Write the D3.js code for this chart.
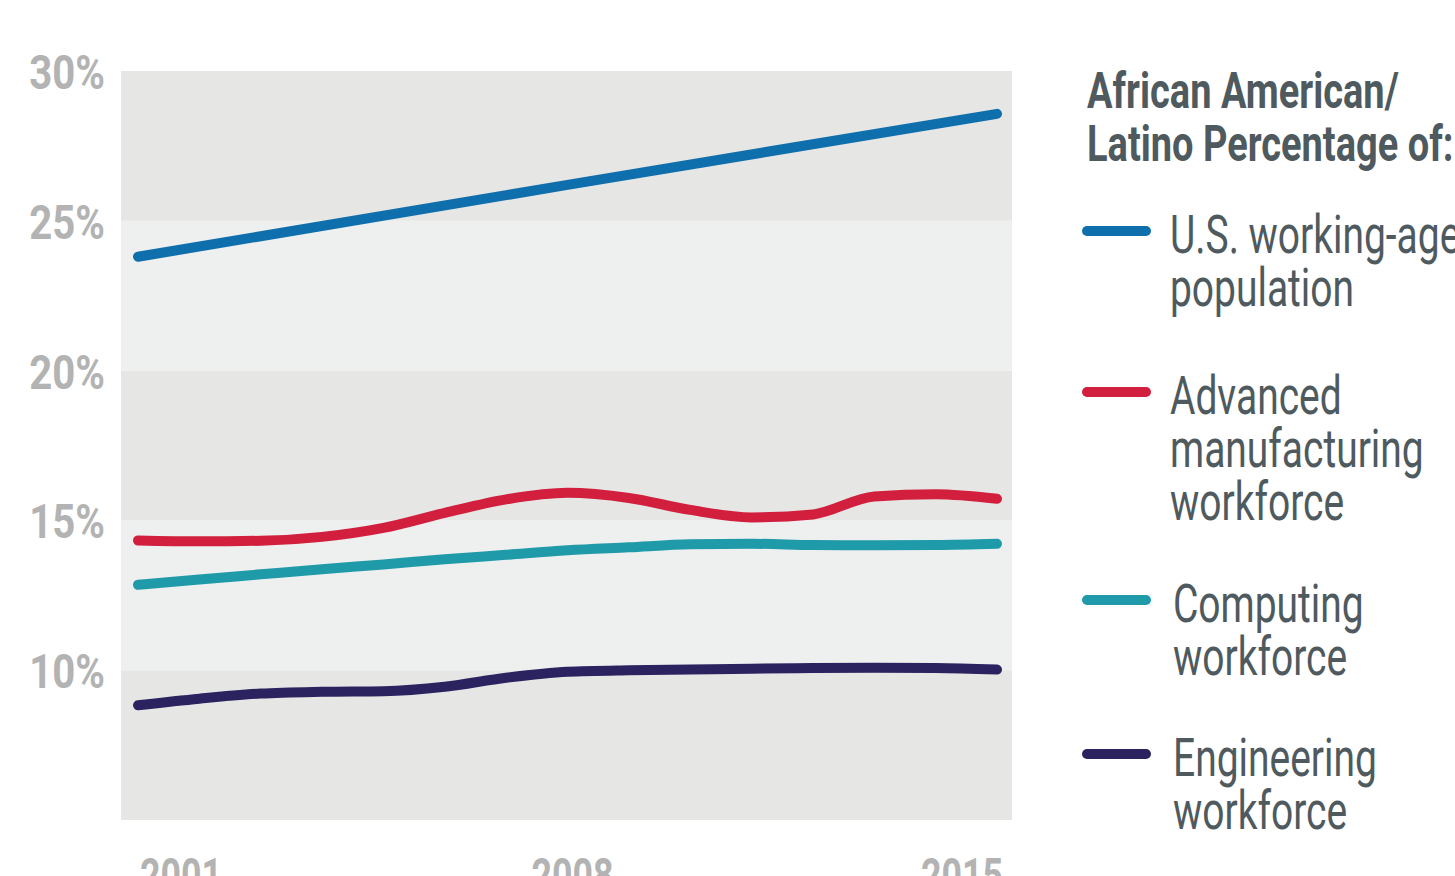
<!DOCTYPE html>
<html>
<head>
<meta charset="utf-8">
<script src="https://cdn.jsdelivr.net/npm/d3@7"></script>
<style>
	body { margin: 0; background: #fff; }
	svg { display: block; }
	text { font-family: Roboto, "Noto Sans", sans-serif; }
</style>
</head>
<body>
<div id="chart-area"></div>
<script>
const svgWidth = 1455,
	svgHeight = 876;

// data (percent)
const years = [2001, 2002, 2003, 2004, 2005, 2006, 2007, 2008, 2009, 2010, 2011, 2012, 2013, 2014, 2015];
const workingAge = [23.8, null, null, null, null, null, null, 26.2, null, null, null, null, null, null, 28.57];
const manufacturing = [14.33, 14.3, 14.32, 14.45, 14.75, 15.25, 15.7, 15.92, 15.75, 15.35, 15.1, 15.2, 15.8, 15.87, 15.72];
const computing = [12.85, 13.03, 13.2, 13.37, 13.53, 13.7, 13.85, 14.0, 14.1, 14.2, 14.22, 14.18, 14.17, 14.18, 14.22];
const engineering = [8.83, 9.05, 9.22, 9.28, 9.3, 9.45, 9.75, 9.95, 10.0, 10.02, 10.05, 10.07, 10.08, 10.07, 10.02];
const yTicks = [30, 25, 20, 15, 10];
const xTicks = [2001, 2008, 2015];
const seriesNames = [["U.S. working-age", "population"], ["Advanced", "manufacturing", "workforce"], ["Computing", "workforce"], ["Engineering", "workforce"]];
const seriesColors = ["#0f6fad", "#d11f3d", "#1f9aa8", "#2a2360"];
const legendTitle = ["African American/", "Latino Percentage of:"];

const series = [workingAge, manufacturing, computing, engineering];

const svg = d3.select("#chart-area")
	.append("svg")
	.attr("width", svgWidth)
	.attr("height", svgHeight);

const plot = {left: 121, right: 1012, top: 71, bottom: 820};

const x = d3.scaleLinear().domain([2001, 2015]).range([138, 997]);
const y = d3.scaleLinear().domain([5, 30]).range([plot.bottom, plot.top]);

// condensed look: squeeze text horizontally around its anchor
function squeeze(sel, px, py, sx) {
	return sel.attr("x", 0).attr("y", 0)
		.attr("transform", (d, i) => `translate(${px(d, i)}, ${py(d, i)}) scale(${sx}, 1)`);
}

// alternating bands
const bands = d3.range(5, 30, 5);
svg.selectAll("rect.band")
	.data(bands)
	.enter().append("rect")
	.attr("class", "band")
	.attr("x", plot.left)
	.attr("width", plot.right - plot.left)
	.attr("y", d => y(d + 5))
	.attr("height", d => y(d) - y(d + 5))
	.attr("fill", d => (d / 5) % 2 === 1 ? "#e6e6e5" : "#eeefef");

// y labels
squeeze(svg.selectAll("text.ytick")
	.data(yTicks)
	.enter().append("text")
	.attr("class", "ytick")
	.attr("text-anchor", "end")
	.attr("font-size", "49px")
	.attr("font-weight", "bold")
	.attr("fill", "#b3b3b3")
	.text(d => d + "%"), () => 105, d => y(d) + 18, 0.82);

// x labels (partly cut off at the bottom)
squeeze(svg.selectAll("text.xtick")
	.data(xTicks)
	.enter().append("text")
	.attr("class", "xtick")
	.attr("text-anchor", (d, i) => i === 0 ? "start" : (i === xTicks.length - 1 ? "end" : "middle"))
	.attr("font-size", "49px")
	.attr("font-weight", "bold")
	.attr("fill", "#b3b3b3")
	.text(d => d), (d, i) => i === 0 ? x(d) + 2 : (i === xTicks.length - 1 ? x(d) + 6 : x(d) + 5), () => 892, 0.73);

const line = d3.line()
	.x(d => x(d.year))
	.y(d => y(d.value))
	.curve(d3.curveMonotoneX);

series.forEach((values, i) => {
	const pts = years.map((yr, j) => ({year: yr, value: values[j]})).filter(d => d.value != null);
	svg.append("path")
		.attr("d", line(pts))
		.attr("fill", "none")
		.attr("stroke", seriesColors[i])
		.attr("stroke-width", 10)
		.attr("stroke-linecap", "round")
		.attr("stroke-linejoin", "round");
});

// legend
const legend = svg.append("g");
squeeze(legend.selectAll("text.ltitle")
	.data(legendTitle)
	.enter().append("text")
	.attr("class", "ltitle")
	.attr("font-size", "50px")
	.attr("font-weight", "bold")
	.attr("fill", "#4f5a5f")
	.text(d => d), () => 1087, (d, i) => 108 + i * 53, 0.76);

const legendY = [231, 392, 600, 754];
const legendTextX = [1170, 1170, 1173, 1173];
seriesNames.forEach((lines, i) => {
	legend.append("line")
		.attr("x1", 1087).attr("x2", 1146)
		.attr("y1", legendY[i]).attr("y2", legendY[i])
		.attr("stroke", seriesColors[i])
		.attr("stroke-width", 10)
		.attr("stroke-linecap", "round");
	squeeze(legend.selectAll(null)
		.data(lines)
		.enter().append("text")
		.attr("font-size", "53px")
		.attr("fill", "#4f5a5f")
		.text(d => d), () => legendTextX[i], (d, j) => legendY[i] + 22 + j * 53, 0.735);
});
</script>
</body>
</html>
